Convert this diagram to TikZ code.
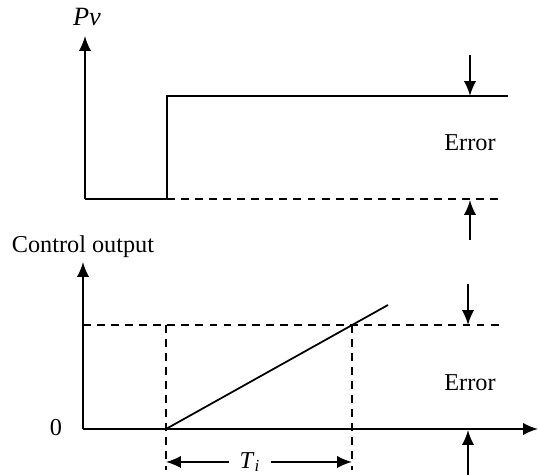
\documentclass[tikz,border=0pt]{standalone}
\usepackage{fontspec}
\setmainfont{Liberation Serif}
\usetikzlibrary{arrows.meta}

\begin{document}
\begin{tikzpicture}[x=0.02cm,y=-0.02cm]
%----------estilos---------
\tikzset{
linea/.style={line width=1pt},
guia/.style={line width=0.8pt,dash pattern=on 4.5pt off 3.5pt},
flecha/.style={line width=1pt,-{Latex[length=8.5pt,width=7pt]}},
rotulo/.style={font=\fontsize{13.8}{16}\selectfont,inner sep=1pt}
}
\useasboundingbox (0,0) rectangle (539,475);

%----------grafica superior---------
\draw [flecha](85,199)--(85,36);
\draw (87,17) node[rotulo,font=\fontsize{15}{17}\selectfont] (pv) {\textit{Pv}};
\draw [linea](85,199)--(167,199)--(167,96)--(508,96);
\draw [guia](167,199)--(502,199);

% error superior
\draw [flecha](470,55)--(470,96);
\draw [flecha](470,240)--(470,200);
\draw (470,143) node[rotulo] (errorsup) {Error};

%----------grafica inferior---------
\draw (83,247) node[rotulo] (salida) {Control output};
\draw [flecha](83,429)--(83,262);
\draw [flecha](83,429)--(538,429);
\draw (56,428) node[rotulo] (cero) {0};
\draw [guia](83,325)--(500,325);
\draw [guia](166,325)--(166,470);
\draw [guia](352,325)--(352,470);
\draw [linea](166,429)--(388,305);

% error inferior
\draw [flecha](468,284)--(468,325);
\draw [flecha](468,475)--(468,430);
\draw (470,383) node[rotulo] (errorinf) {Error};

% tiempo integral
\draw (250,462) node[rotulo,inner xsep=6pt] (ti) {\textit{T}\textsubscript{\textit{i}}};
\draw [flecha](ti.west)--(166,462);
\draw [flecha](ti.east)--(352,462);
\end{tikzpicture}
\end{document}
